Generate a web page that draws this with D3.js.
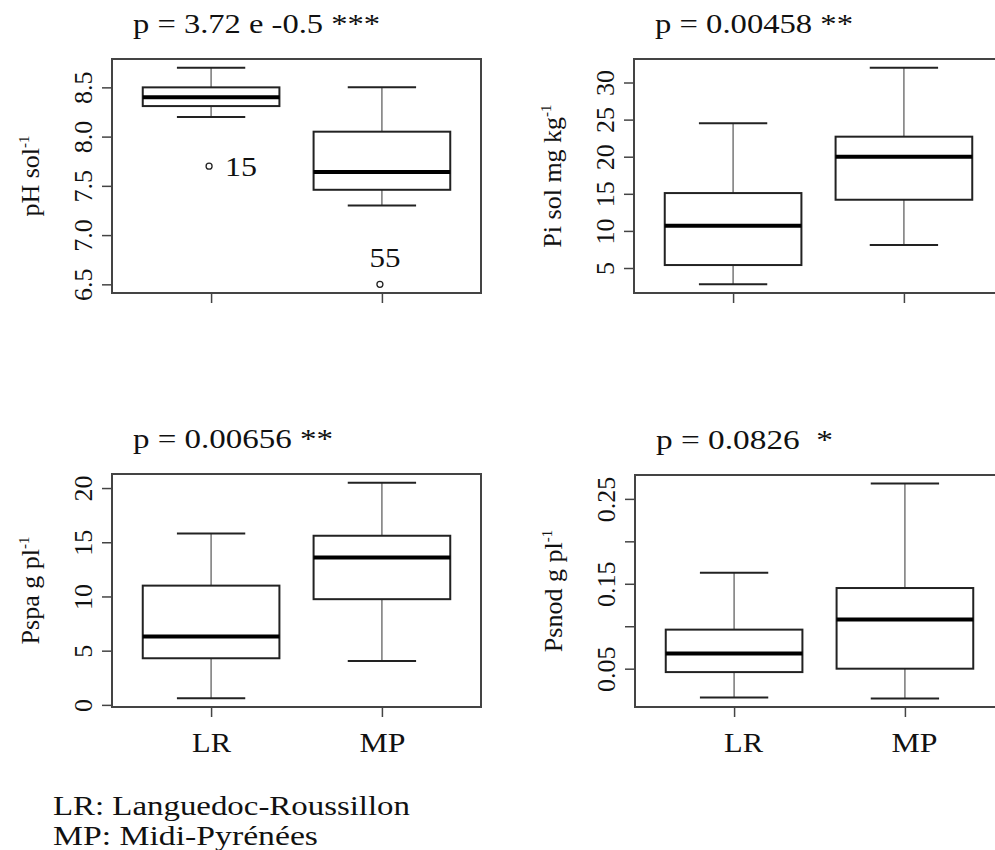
<!DOCTYPE html>
<html>
<head>
<meta charset="utf-8">
<script src="https://cdn.jsdelivr.net/npm/d3@7"></script>
</head>
<body style="margin:0;background:#fff">
<svg id="chart" width="995" height="850"></svg>
<script>
// ---------------- DATA ----------------
const categories = ["LR", "MP"];

const titles = ["p = 3.72 e -0.5 ***", "p = 0.00458 **", "p = 0.00656 **", "p = 0.0826  *"];
const yLabelBase = ["pH sol", "Pi sol mg kg", "Pspa g pl", "Psnod g pl"];
const yLabelSup = ["-1", "-1", "-1", "-1"];

// five-number summaries [lower whisker, Q1, median, Q3, upper whisker] for LR, MP
const pHStats    = [[8.20, 8.31, 8.40, 8.50, 8.70], [7.30, 7.46, 7.64, 8.05, 8.50]];
const piStats    = [[2.8, 5.4, 10.7, 15.1, 24.5], [8.1, 14.2, 20.0, 22.7, 32.0]];
const pspaStats  = [[0.6, 4.3, 6.3, 11.0, 15.8], [4.05, 9.75, 13.6, 15.6, 20.5]];
const psnodStats = [[0.016, 0.046, 0.068, 0.096, 0.163], [0.015, 0.050, 0.108, 0.145, 0.268]];

// outliers
const pHOutlierCats   = ["LR", "MP"];
const pHOutlierValues = [7.70, 6.50];
const pHOutlierLabels = ["15", "55"];

// y-axis ticks
const pHTicks = [6.5, 7.0, 7.5, 8.0, 8.5];
const pHTickLabels = ["6.5", "7.0", "7.5", "8.0", "8.5"];
const piTicks = [5, 10, 15, 20, 25, 30];
const piTickLabels = ["5", "10", "15", "20", "25", "30"];
const pspaTicks = [0, 5, 10, 15, 20];
const pspaTickLabels = ["0", "5", "10", "15", "20"];
const psnodTicks = [0.05, 0.10, 0.15, 0.20, 0.25];
const psnodTickLabels = ["0.05", "", "0.15", "", "0.25"];

const legendLines = ["LR: Languedoc-Roussillon", "MP: Midi-Pyrénées"];

// ---------------- LAYOUT ----------------
const FONT = "Liberation Serif";
const svg = d3.select("#chart").attr("font-family", FONT);
svg.append("rect").attr("width", 995).attr("height", 850).attr("fill", "#fff");

const panels = [
  { stats: pHStats, ticks: pHTicks, tickLabels: pHTickLabels, title: titles[0], yb: yLabelBase[0], ys: yLabelSup[0],
    left: 112, right: 481, top: 59, bottom: 293, xlabels: false, titleLen: 247,
    outCats: pHOutlierCats, outVals: pHOutlierValues, outLabels: pHOutlierLabels },
  { stats: piStats, ticks: piTicks, tickLabels: piTickLabels, title: titles[1], yb: yLabelBase[1], ys: yLabelSup[1],
    left: 634, right: 1003, top: 59, bottom: 293, xlabels: false, titleLen: 198 },
  { stats: pspaStats, ticks: pspaTicks, tickLabels: pspaTickLabels, title: titles[2], yb: yLabelBase[2], ys: yLabelSup[2],
    left: 112, right: 481, top: 474, bottom: 707, xlabels: true, titleLen: 200, labelDx: 0 },
  { stats: psnodStats, ticks: psnodTicks, tickLabels: psnodTickLabels, title: titles[3], yb: yLabelBase[3], ys: yLabelSup[3],
    left: 635, right: 1004, top: 475, bottom: 707, xlabels: true, titleLen: 177, labelDx: 9 }
];

function txt(sel) {
  return sel.append("text").attr("font-family", FONT).attr("fill", "#111");
}

panels.forEach((p) => {
  const g = svg.append("g");

  // y domain: data range extended by 4% (R default)
  let vals = p.stats.flat();
  if (p.outVals) vals = vals.concat(p.outVals);
  const lo = d3.min(vals), hi = d3.max(vals), ext = (hi - lo) * 0.04;
  const y = d3.scaleLinear().domain([lo - ext, hi + ext]).range([p.bottom, p.top]);
  const x = d3.scalePoint().domain(categories).range([p.left, p.right]).padding(0.58);
  const step = x.step();
  const boxW = step * 0.8, capW = step * 0.4;

  // boxes
  categories.forEach((c, i) => {
    const s = p.stats[i];
    const cx = x(c);
    g.append("line").attr("x1", cx).attr("x2", cx).attr("y1", y(s[4])).attr("y2", y(s[3]))
      .attr("stroke", "#555").attr("stroke-width", 1.2);
    g.append("line").attr("x1", cx).attr("x2", cx).attr("y1", y(s[1])).attr("y2", y(s[0]))
      .attr("stroke", "#555").attr("stroke-width", 1.2);
    [s[0], s[4]].forEach(v => {
      g.append("line").attr("x1", cx - capW / 2).attr("x2", cx + capW / 2).attr("y1", y(v)).attr("y2", y(v))
        .attr("stroke", "#222").attr("stroke-width", 2);
    });
    g.append("rect").attr("x", cx - boxW / 2).attr("width", boxW)
      .attr("y", y(s[3])).attr("height", y(s[1]) - y(s[3]))
      .attr("fill", "#fff").attr("stroke", "#222").attr("stroke-width", 2);
    g.append("line").attr("x1", cx - boxW / 2).attr("x2", cx + boxW / 2).attr("y1", y(s[2])).attr("y2", y(s[2]))
      .attr("stroke", "#000").attr("stroke-width", 4);
  });

  // outliers
  if (p.outVals) {
    p.outVals.forEach((v, i) => {
      const cx = x(p.outCats[i]), cy = y(v);
      g.append("circle").attr("cx", cx - 2).attr("cy", cy).attr("r", 3)
        .attr("fill", "none").attr("stroke", "#222").attr("stroke-width", 1.3);
      if (i === 0) {
        txt(g).attr("x", cx + 14).attr("y", cy + 10).attr("font-size", 27)
          .attr("textLength", 32).attr("lengthAdjust", "spacingAndGlyphs").text(p.outLabels[i]);
      } else {
        txt(g).attr("x", cx + 3).attr("y", cy - 17).attr("font-size", 27).attr("text-anchor", "middle")
          .attr("textLength", 31).attr("lengthAdjust", "spacingAndGlyphs").text(p.outLabels[i]);
      }
    });
  }

  // frame
  g.append("rect").attr("x", p.left).attr("y", p.top).attr("width", p.right - p.left).attr("height", p.bottom - p.top)
    .attr("fill", "none").attr("stroke", "#444").attr("stroke-width", 2);

  // y axis
  const yAxis = g.append("g").attr("transform", `translate(${p.left},0)`)
    .call(d3.axisLeft(y).tickValues(p.ticks).tickSize(10).tickFormat((d, i) => p.tickLabels[i]));
  yAxis.attr("font-family", FONT).attr("font-size", 26);
  yAxis.select(".domain").remove();
  yAxis.selectAll(".tick line").attr("stroke", "#444").attr("stroke-width", 1.5);
  yAxis.selectAll(".tick text")
    .attr("font-family", FONT).attr("font-size", 26).attr("fill", "#111")
    .attr("transform", "rotate(-90)").attr("x", 0).attr("y", -20).attr("dy", 0).attr("text-anchor", "middle");

  // x axis
  const xAxis = g.append("g").attr("transform", `translate(0,${p.bottom})`)
    .call(d3.axisBottom(x).tickSize(10).tickFormat(d => p.xlabels ? d : ""));
  xAxis.attr("font-family", FONT).attr("font-size", 27);
  xAxis.select(".domain").remove();
  xAxis.selectAll(".tick line").attr("stroke", "#444").attr("stroke-width", 1.5);
  if (p.xlabels) {
    xAxis.selectAll(".tick text")
      .attr("font-family", FONT).attr("font-size", 27).attr("fill", "#111")
      .attr("y", 45).attr("dy", 0).attr("dx", p.labelDx)
      .attr("textLength", d => d === "LR" ? 39 : 46).attr("lengthAdjust", "spacingAndGlyphs");
  }

  // y label
  const yl = txt(g)
    .attr("transform", `translate(${p.left - 73},${(p.top + p.bottom) / 2}) rotate(-90)`)
    .attr("text-anchor", "middle").attr("font-size", 26);
  yl.append("tspan").text(p.yb);
  yl.append("tspan").attr("font-size", 15).attr("dy", -10).text(p.ys);

  // title
  txt(g).attr("x", p.left + 21).attr("y", p.top - 26).attr("font-size", 27)
    .attr("textLength", p.titleLen).attr("lengthAdjust", "spacingAndGlyphs")
    .attr("xml:space", "preserve").text(p.title);
});

// legend
const legLens = [357, 265];
legendLines.forEach((t, i) => {
  txt(svg).attr("x", 53).attr("y", 815 + i * 30).attr("font-size", 27)
    .attr("textLength", legLens[i]).attr("lengthAdjust", "spacingAndGlyphs").text(t);
});
</script>
</body>
</html>
